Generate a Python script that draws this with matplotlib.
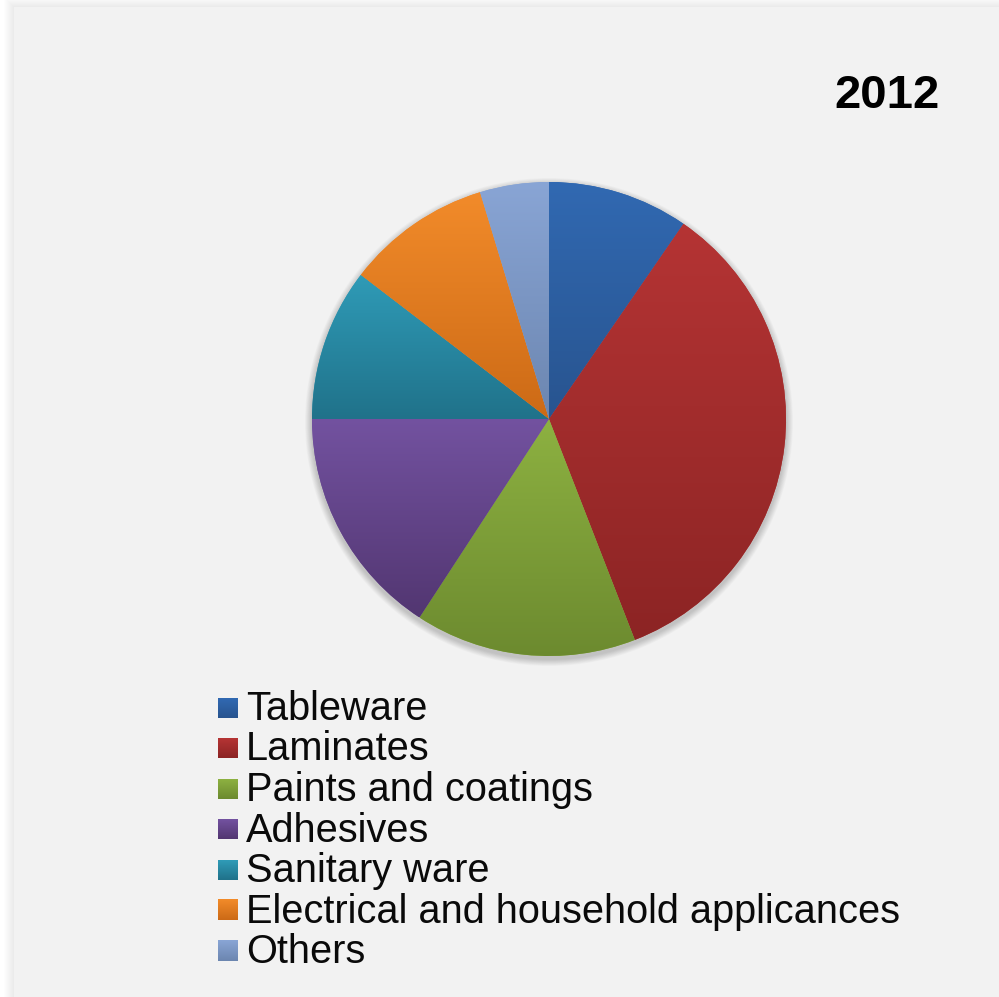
import numpy as np
import matplotlib
matplotlib.use("Agg")
import matplotlib.pyplot as plt
from matplotlib.patches import Rectangle, Circle
from matplotlib.colors import to_rgb

categories = ["Tableware", "Laminates", "Paints and coatings", "Adhesives",
              "Sanitary ware", "Electrical and household applicances", "Others"]
shares = [9.6, 34.5, 15.1, 15.8, 10.4, 9.9, 4.7]
top_colors = ["#3169B2", "#B53434", "#8DB141", "#7352A0", "#2F9BB7", "#F28B2A", "#89A5D5"]
bottom_colors = ["#28548F", "#8C2424", "#6C8A2F", "#523671", "#20728A", "#CC6A16", "#6C86B0"]
title = "2012"

W, H = 999, 997
fig = plt.figure(figsize=(W / 100, H / 100), dpi=100)
fig.patch.set_facecolor("white")
ax = fig.add_axes([0, 0, 1, 1])
ax.set_xlim(0, W)
ax.set_ylim(0, H)
ax.axis("off")

# panel with soft shadow
for i in range(10):
    off = 10 - i
    ax.add_patch(Rectangle((14 - off, -40), W + 60, H - 7 + 40 + off,
                           facecolor=(0, 0, 0, 0.008), edgecolor="none", zorder=0))
ax.add_patch(Rectangle((14, -40), W + 60, H - 7 + 40, facecolor="#F2F2F2",
                       edgecolor="none", zorder=1))

cx, cy, r = 549, H - 419, 237

# pie shadow
for i in range(10):
    ax.add_patch(Circle((cx, cy - 3), r + 7 - i * 0.7, facecolor=(0, 0, 0, 0.02),
                        edgecolor="none", zorder=2))

wedges, _ = ax.pie(shares, center=(cx, cy), radius=r, startangle=90,
                   counterclock=False, wedgeprops=dict(linewidth=0, edgecolor="none"))
ax.set_xlim(0, W)
ax.set_ylim(0, H)
ax.set_aspect("auto")

def grad_img(c_top, c_bot, n=256):
    t = np.linspace(0, 1, n)[:, None]
    a = np.array(to_rgb(c_top))
    b = np.array(to_rgb(c_bot))
    img = a[None, None, :] * (1 - t[..., None]) + b[None, None, :] * t[..., None]
    return img

for w, ct, cb in zip(wedges, top_colors, bottom_colors):
    w.set_zorder(3)
    w.set_facecolor(ct)
    verts = w.get_path().vertices
    x0, x1 = verts[:, 0].min(), verts[:, 0].max()
    y0, y1 = verts[:, 1].min(), verts[:, 1].max()
    im = ax.imshow(grad_img(ct, cb), extent=(x0, x1, y0, y1), origin="upper",
                   aspect="auto", zorder=4, interpolation="bilinear")
    im.set_clip_path(w)

ax.set_xlim(0, W)
ax.set_ylim(0, H)

ax.text(940, H - 96, title, ha="right", va="center", fontsize=34,
        fontweight="bold", family="Liberation Sans", color="black", zorder=5)

# legend
ly0 = 708
dy = 40.5
for i, (name, ct, cb) in enumerate(zip(categories, top_colors, bottom_colors)):
    yc = H - (ly0 + i * dy)
    ax.imshow(grad_img(ct, cb, 32), extent=(218, 238, yc - 10, yc + 10), origin="upper",
              aspect="auto", zorder=5)
    ax.text(246, yc - 1, name, ha="left", va="center", fontsize=28.6,
            family="Liberation Sans", color="#0A0A0A", zorder=5)

ax.set_xlim(0, W)
ax.set_ylim(0, H)
fig.savefig("out.png", dpi=100, facecolor=fig.get_facecolor())
